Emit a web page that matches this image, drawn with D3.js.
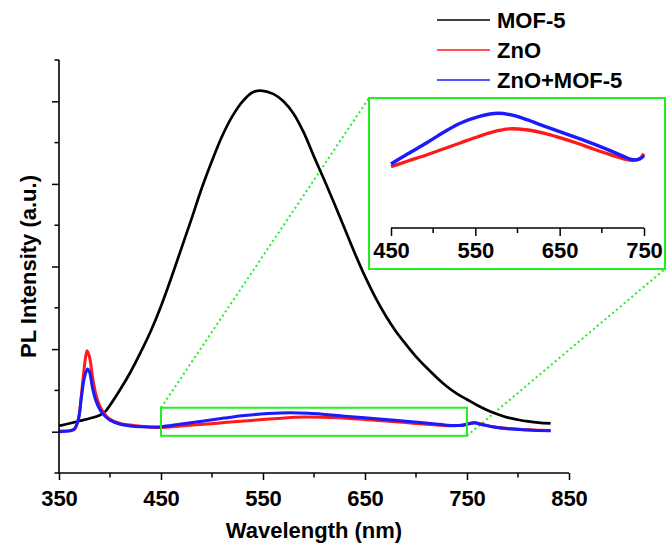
<!DOCTYPE html>
<html>
<head>
<meta charset="utf-8">
<script src="https://cdn.jsdelivr.net/npm/d3@7/dist/d3.min.js"></script>
<style>
  html, body { margin: 0; padding: 0; background: #fff; }
  svg { display: block; }
  text { font-family: "Liberation Sans", Arial, sans-serif; font-weight: bold; fill: #000; }
</style>
</head>
<body>
<script>
// ---- data ----
const seriesNames = ["MOF-5", "ZnO", "ZnO+MOF-5"];
const seriesColors = ["#000000", "#ff1a1a", "#1a1aff"];

const mof5 = [
  [350,0.07],[360,0.10],[370,0.13],[380,0.16],[390,0.20],[395,0.24],[400,0.32],[410,0.51],
  [420,0.72],[430,0.96],[440,1.22],[450,1.52],[460,1.86],[470,2.22],[480,2.58],[490,2.95],
  [500,3.28],[510,3.58],[520,3.82],[530,4.00],[540,4.11],[548,4.13],[560,4.09],[570,4.00],
  [580,3.85],[590,3.62],[600,3.33],[610,3.05],[620,2.76],[630,2.46],[640,2.16],[650,1.88],
  [660,1.63],[670,1.41],[680,1.22],[690,1.06],[700,0.91],[710,0.78],[720,0.66],[730,0.55],
  [740,0.46],[750,0.39],[760,0.32],[770,0.26],[780,0.21],[790,0.17],[800,0.145],[810,0.125],
  [820,0.11],[832,0.10]
];

const zno = [
  [350,0.01],[360,0.01],[365,0.03],[369,0.15],[372,0.45],[375,0.80],[377.5,0.98],[380,0.90],
  [383,0.65],[386,0.46],[390,0.31],[395,0.21],[400,0.15],[410,0.10],[420,0.08],[430,0.065],
  [440,0.055],[450,0.051],[470,0.07],[492,0.09],[512,0.11],[532,0.13],[552,0.15],[571,0.167],
  [590,0.177],[610,0.174],[631,0.163],[650,0.148],[670,0.13],[690,0.11],[710,0.091],[725,0.078],
  [737,0.072],[745,0.078],[750,0.094],[757,0.11],[765,0.09],[775,0.06],[790,0.04],[810,0.025],
  [832,0.015]
];

const znoMof5 = [
  [350,0.0],[360,0.01],[365,0.03],[369,0.15],[372,0.42],[375,0.66],[378,0.76],[380,0.72],
  [383,0.52],[386,0.38],[390,0.27],[395,0.19],[400,0.14],[410,0.09],[420,0.07],[430,0.06],
  [440,0.058],[450,0.06],[470,0.094],[492,0.13],[512,0.165],[532,0.196],[555,0.219],[577,0.229],
  [595,0.222],[611,0.208],[630,0.188],[650,0.168],[670,0.148],[690,0.127],[712,0.102],[725,0.086],
  [737,0.074],[745,0.077],[750,0.088],[757,0.105],[765,0.085],[775,0.06],[790,0.035],[810,0.02],
  [832,0.01]
];

const xTicks = [350, 450, 550, 650, 750, 850];
const xMinor = [400, 500, 600, 700, 800];
const yTicks = [0, 1, 2, 3, 4];
const yMinor = [-0.5, 0.5, 1.5, 2.5, 3.5, 4.5];
const insetTicks = [450, 550, 650, 750];
const insetMinor = [500, 600, 700];
const zoomRange = [450, 750];
const zoomValues = [-0.05, 0.29];

// ---- layout ----
const W = 666, H = 545;
const svg = d3.select("body").append("svg").attr("width", W).attr("height", H);

const x = d3.scaleLinear().domain([350, 850]).range([59, 569]);
const y = d3.scaleLinear().domain([-0.5, 4.5]).range([473, 60]);

const xi = d3.scaleLinear().domain(zoomRange).range([391, 644]);
const yi = d3.scaleLinear().domain([0.06, 0.229]).range([164, 113.3]);

const green = "#22ee22";

// zoom rectangle and dotted connectors
const zx0 = x(zoomRange[0]), zx1 = x(zoomRange[1]);
const zy0 = y(zoomValues[1]), zy1 = y(zoomValues[0]);
const inset = {x0: 369, y0: 98, x1: 665, y1: 269};

svg.append("line").attr("x1", zx0).attr("y1", zy0).attr("x2", inset.x0).attr("y2", inset.y0)
  .attr("stroke", green).attr("stroke-width", 2).attr("stroke-dasharray", "2,3");
svg.append("line").attr("x1", zx1).attr("y1", zy1).attr("x2", inset.x1).attr("y2", inset.y1)
  .attr("stroke", green).attr("stroke-width", 2).attr("stroke-dasharray", "2,3");

// main curves
const line = d3.line().x(d => x(d[0])).y(d => y(d[1])).curve(d3.curveCatmullRom.alpha(0.5));
const allSeries = [mof5, zno, znoMof5];
const widths = [2.7, 3, 3];
allSeries.forEach((s, i) => {
  svg.append("path").datum(s).attr("d", line).attr("fill", "none")
    .attr("stroke", seriesColors[i]).attr("stroke-width", widths[i]).attr("stroke-linejoin", "round");
});

// zoom rectangle
svg.append("rect").attr("x", zx0).attr("y", zy0).attr("width", zx1 - zx0).attr("height", zy1 - zy0)
  .attr("fill", "none").attr("stroke", green).attr("stroke-width", 2);

// main axes
const axX = svg.append("g").attr("transform", `translate(0,${y(-0.5)})`);
axX.call(d3.axisBottom(x).tickValues(xTicks).tickSize(7).tickPadding(10).tickFormat(d3.format("d")));
axX.append("g").selectAll("line").data(xMinor).join("line")
  .attr("x1", d => x(d)).attr("x2", d => x(d)).attr("y1", 0).attr("y2", 4.5).attr("stroke", "#000").attr("stroke-width", 1.5);

const axY = svg.append("g").attr("transform", `translate(${x(350)},0)`);
axY.call(d3.axisLeft(y).tickValues(yTicks).tickSize(7).tickFormat(""));
axY.append("g").selectAll("line").data(yMinor).join("line")
  .attr("y1", d => y(d)).attr("y2", d => y(d)).attr("x1", 0).attr("x2", -4.5).attr("stroke", "#000").attr("stroke-width", 1.5);

[axX, axY].forEach(a => {
  a.select(".domain").attr("stroke", "#000").attr("stroke-width", 1.6);
  a.selectAll(".tick line").attr("stroke", "#000").attr("stroke-width", 1.5);
  a.selectAll(".tick text").style("font-size", "22px").style("font-weight", "bold")
    .style("font-family", "'Liberation Sans', Arial, sans-serif").attr("fill", "#000");
});
axX.select(".domain").attr("d", `M${x(350)},0H${x(850)}`);
axY.select(".domain").attr("d", `M0,${y(-0.5)}V${y(4.5)}`);

// axis titles
svg.append("text").attr("x", (x(350) + x(850)) / 2).attr("y", 538).attr("text-anchor", "middle")
  .style("font-size", "22px").text("Wavelength (nm)");
svg.append("text").attr("transform", `translate(36,${(y(-0.5) + y(4.5)) / 2}) rotate(-90)`)
  .attr("text-anchor", "middle").style("font-size", "22px").text("PL Intensity (a.u.)");

// legend
seriesNames.forEach((n, i) => {
  const ly = 20 + i * 30;
  svg.append("line").attr("x1", 437).attr("x2", 490).attr("y1", ly).attr("y2", ly)
    .attr("stroke", seriesColors[i]).attr("stroke-width", 1.6);
  svg.append("text").attr("x", 497).attr("y", ly + 8).style("font-size", "22px").text(n);
});

// inset
svg.append("rect").attr("x", inset.x0).attr("y", inset.y0)
  .attr("width", inset.x1 - inset.x0).attr("height", inset.y1 - inset.y0)
  .attr("fill", "#fff").attr("stroke", green).attr("stroke-width", 2);

const iline = d3.line().x(d => xi(d[0])).y(d => yi(d[1])).curve(d3.curveCatmullRom.alpha(0.5));
[zno, znoMof5].forEach((s, i) => {
  svg.append("path").datum(s.filter(d => d[0] >= zoomRange[0] && d[0] <= zoomRange[1]))
    .attr("d", iline).attr("fill", "none").attr("stroke", seriesColors[i + 1])
    .attr("stroke-width", 3.4).attr("stroke-linejoin", "round");
});

const axI = svg.append("g").attr("transform", "translate(0,228)");
axI.call(d3.axisBottom(xi).tickValues(insetTicks).tickSize(8).tickPadding(6).tickFormat(d3.format("d")));
axI.append("g").selectAll("line").data(insetMinor).join("line")
  .attr("x1", d => xi(d)).attr("x2", d => xi(d)).attr("y1", 0).attr("y2", 5).attr("stroke", "#000").attr("stroke-width", 1.5);
axI.select(".domain").attr("d", `M${xi(450)},0H${xi(750)}`).attr("stroke", "#000").attr("stroke-width", 1.6);
axI.selectAll(".tick line").attr("stroke", "#000").attr("stroke-width", 1.5);
axI.selectAll(".tick text").style("font-size", "22px").style("font-weight", "bold")
  .style("font-family", "'Liberation Sans', Arial, sans-serif").attr("fill", "#000");
</script>
</body>
</html>
